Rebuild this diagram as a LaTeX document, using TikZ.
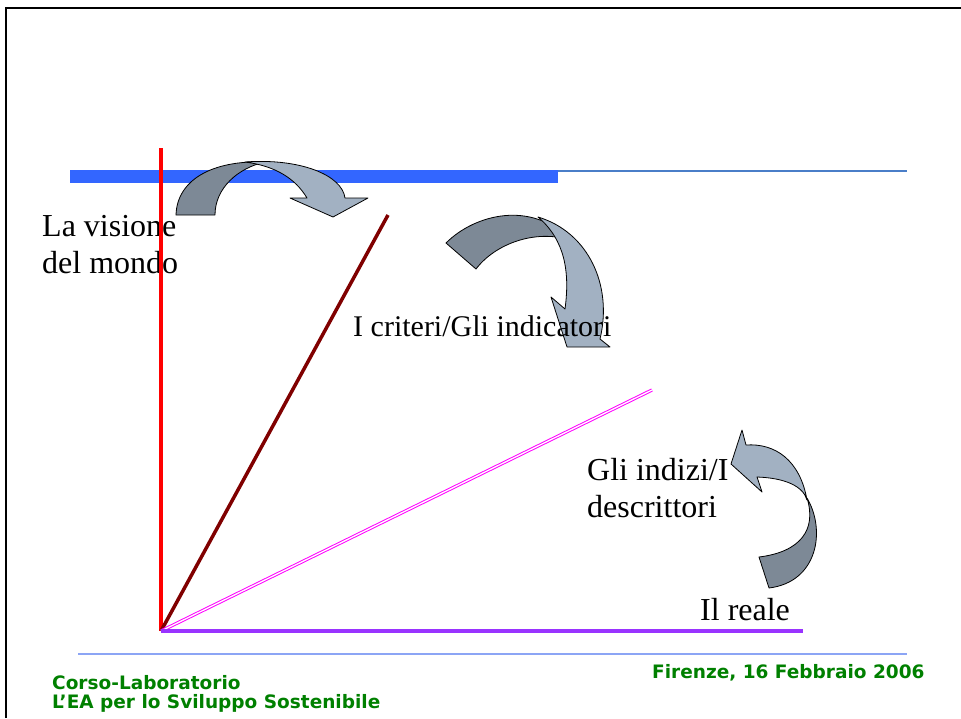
\documentclass[tikz,border=0pt]{standalone}
\usepackage{fontspec}
\setmainfont{Liberation Serif}
\newfontfamily\footfont{DejaVu Sans}
\usetikzlibrary{positioning}
\definecolor{slBlue}{RGB}{51,102,255}
\definecolor{slThin}{RGB}{74,126,200}
\definecolor{slRed}{RGB}{255,0,0}
\definecolor{slBrown}{RGB}{128,0,0}
\definecolor{slPink}{RGB}{255,0,255}
\definecolor{slViolet}{RGB}{153,51,255}
\definecolor{slRule}{RGB}{140,165,245}
\definecolor{slGreen}{RGB}{0,128,0}
\definecolor{arDark}{RGB}{125,137,150}
\definecolor{arLight}{RGB}{162,177,194}

\begin{document}
\begin{tikzpicture}[x=1pt,y=-1pt,
    arback/.style={fill=arDark,draw=black,line width=0.8pt,line join=round},
    arfront/.style={fill=arLight,draw=black,line width=0.8pt,line join=round},
    lbl/.style={anchor=north west,inner sep=0pt,align=left,font=\fontsize{32}{37.5}\selectfont},
    foot/.style={anchor=north west,inner sep=0pt,align=left,text=slGreen,font=\footfont\bfseries\fontsize{18.5}{19.5}\selectfont}]
    \useasboundingbox (0,0) rectangle (961,718);
    \draw[line width=2.5pt] (6,718) -- (6,8) -- (961,8);
    \coordinate (o) at (161,631);
    \coordinate (vtop) at (161,148);
    \coordinate (ctop) at (388,215);
    \coordinate (itop) at (652,390);
    \coordinate (rend) at (803,631);
    \coordinate (bl) at (70,176.5);
    \coordinate (bm) at (558,176.5);
    \coordinate (tl) at (558,171);
    \coordinate (tr) at (907,171);
    \coordinate (fl) at (78,654);
    \coordinate (fr) at (907,654);
    \node[lbl] (vis) at (42,215) {La visione\\del mondo};
    \draw[slBlue,line width=12.5pt] (bl) -- (bm);
    \draw[slThin,line width=1.8pt] (tl) -- (tr);
    \draw[slRule,line width=1.2pt] (fl) -- (fr);
    \draw[slRed,line width=3.5pt] (o) -- (vtop);
    \draw[slBrown,line width=3.5pt] (o) -- (ctop);
    \draw[slPink,double=white,double distance=1.3pt,line width=1pt] (o) -- (itop);
    \draw[slViolet,line width=4pt] (o) -- (rend);
    \filldraw[arback] (176,215) .. controls (177,180) and (212,160) .. (265,162) .. controls (238,168) and (215,188) .. (215,215) -- cycle;
    \filldraw[arfront] (245,162) .. controls (300,158) and (342,175) .. (345,198) -- (368,198) -- (333,217) -- (290,198) -- (307,198) .. controls (295,178) and (275,166) .. (245,162) -- cycle;
    \filldraw[arback] (446,243) .. controls (475,214) and (532,200) .. (570,240) .. controls (535,229) and (495,244) .. (476,269) -- cycle;
    \filldraw[arfront] (538,217) .. controls (588,232) and (613,285) .. (600,339) -- (610,347) -- (567,347) -- (551,297) -- (565,309) .. controls (570,272) and (565,240) .. (538,217) -- cycle;
    \filldraw[arback] (759,557) .. controls (800,552) and (817,530) .. (807,498) .. controls (826,530) and (818,582) .. (769,588) -- cycle;
    \filldraw[arfront] (807,500) .. controls (800,460) and (775,443) .. (746,445) -- (742,430) -- (731,464) -- (762,492) -- (757,477) .. controls (785,478) and (803,486) .. (807,500) -- cycle;
    \node[lbl,font=\fontsize{30}{36}\selectfont] (crit) at (353,315.5) {I criteri/Gli indicatori};
    \node[lbl] (ind) at (587,458) {Gli indizi/I\\descrittori};
    \node[lbl] (real) at (700,598) {Il reale};
    \node[foot] (corso) at (52,675) {Corso-Laboratorio\\L’EA per lo Sviluppo Sostenibile};
    \node[foot] (firenze) at (652,664) {Firenze, 16 Febbraio 2006};
\end{tikzpicture}
\end{document}
